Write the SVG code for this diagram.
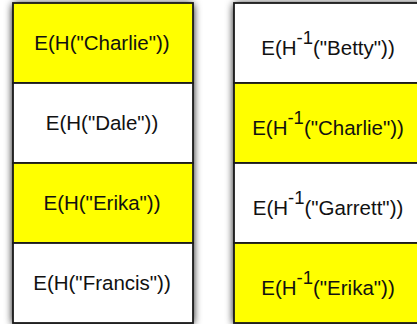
<svg xmlns="http://www.w3.org/2000/svg" width="417" height="324" viewBox="0 0 417 324">
  <defs>
    <filter id="soft-shadow" x="-20%" y="-20%" width="140%" height="140%">
      <feGaussianBlur in="SourceAlpha" stdDeviation="4.5"/>
      <feOffset dx="0" dy="1" result="blur"/>
      <feComponentTransfer><feFuncA type="linear" slope="1.1"/></feComponentTransfer>
      <feMerge><feMergeNode/><feMergeNode in="SourceGraphic"/></feMerge>
    </filter>
  </defs>
  <style>
    .cell { stroke: #1a1a1a; stroke-width: 1.8; }
    .hit { fill: #ffff00; }
    .miss { fill: #ffffff; }
    .lbl { font-family: "Liberation Sans", Arial, Helvetica, sans-serif; font-size: 20.5px; fill: #111; text-anchor: middle; }
    .sup { font-size: 18.5px; }
  </style>

  <!-- column backdrops carrying the shadow -->
  <rect x="13" y="3" width="180" height="320" fill="#fff" filter="url(#soft-shadow)"/>
  <rect x="234" y="3" width="190" height="320" fill="#fff" filter="url(#soft-shadow)"/>

  <!-- left column: E(H(name)) -->
  <g id="left-charlie">
    <rect class="cell hit" x="13" y="3" width="180" height="80"/>
    <text class="lbl" x="102" y="50">E(H("Charlie"))</text>
  </g>
  <g id="left-dale">
    <rect class="cell miss" x="13" y="83" width="180" height="80"/>
    <text class="lbl" x="102" y="130">E(H("Dale"))</text>
  </g>
  <g id="left-erika">
    <rect class="cell hit" x="13" y="163" width="180" height="80"/>
    <text class="lbl" x="102" y="210">E(H("Erika"))</text>
  </g>
  <g id="left-francis">
    <rect class="cell miss" x="13" y="243" width="180" height="80"/>
    <text class="lbl" x="102" y="290">E(H("Francis"))</text>
  </g>

  <!-- right column: E(H^-1(name)) -->
  <g id="right-betty">
    <rect class="cell miss" x="234" y="3" width="190" height="80"/>
    <text class="lbl" x="328" y="55">E(H<tspan class="sup" dy="-11">-1</tspan><tspan dy="11">("Betty"))</tspan></text>
  </g>
  <g id="right-charlie">
    <rect class="cell hit" x="234" y="83" width="190" height="80"/>
    <text class="lbl" x="328" y="135">E(H<tspan class="sup" dy="-11">-1</tspan><tspan dy="11">("Charlie"))</tspan></text>
  </g>
  <g id="right-garrett">
    <rect class="cell miss" x="234" y="163" width="190" height="80"/>
    <text class="lbl" x="328" y="215">E(H<tspan class="sup" dy="-11">-1</tspan><tspan dy="11">("Garrett"))</tspan></text>
  </g>
  <g id="right-erika">
    <rect class="cell hit" x="234" y="243" width="190" height="80"/>
    <text class="lbl" x="328" y="295">E(H<tspan class="sup" dy="-11">-1</tspan><tspan dy="11">("Erika"))</tspan></text>
  </g>

  <g id="connectors"/>
</svg>
